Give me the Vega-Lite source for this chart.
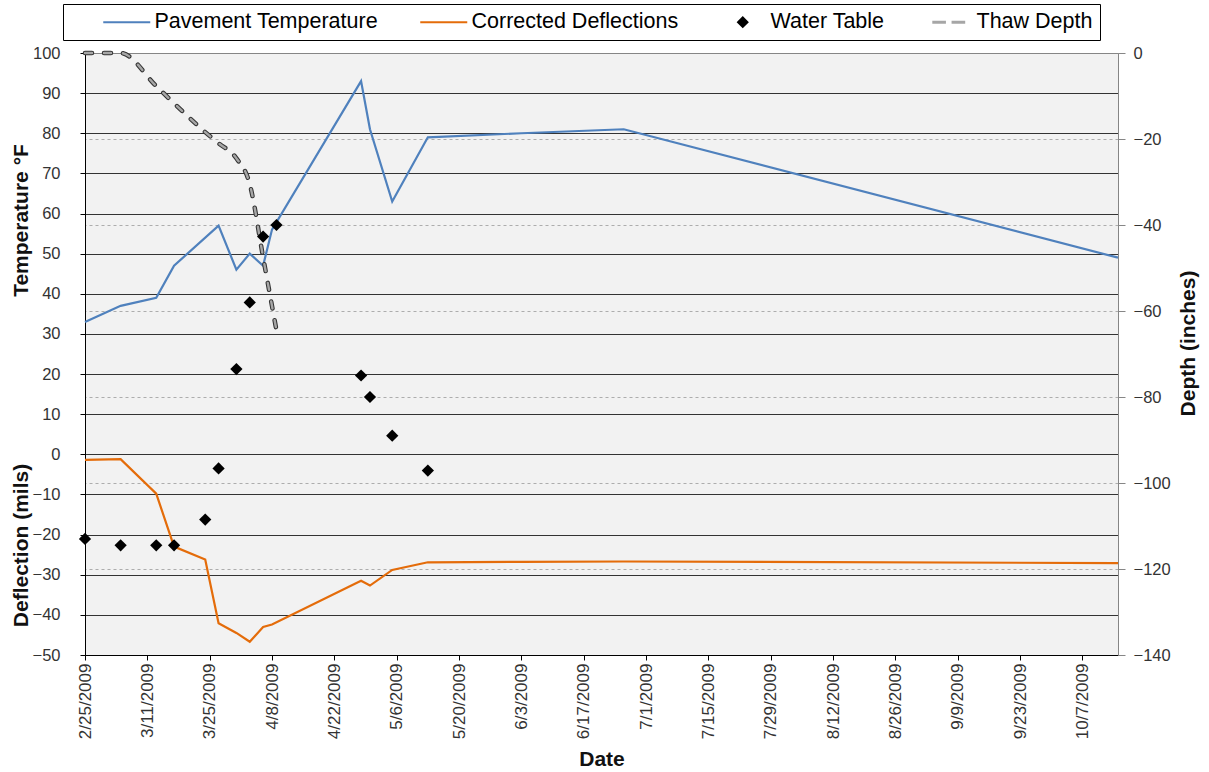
{
  "$schema": "https://vega.github.io/schema/vega-lite/v6.json",
  "width": 1033,
  "height": 602,
  "autosize": {"type": "none"},
  "padding": {"left": 85, "top": 53, "right": 91, "bottom": 117},
  "background": "white",
  "config": {
    "font": "Liberation Sans",
    "view": {"fill": "#F2F2F2", "stroke": "#868686", "strokeWidth": 1},
    "axis": {"labelFont": "Liberation Sans", "titleFont": "Liberation Sans"}
  },
  "datasets": {
    "temp": [
      {"date": "2009-02-25", "value": 33, "series": "Pavement Temperature"},
      {"date": "2009-03-05", "value": 37, "series": "Pavement Temperature"},
      {"date": "2009-03-13", "value": 39, "series": "Pavement Temperature"},
      {"date": "2009-03-17", "value": 47, "series": "Pavement Temperature"},
      {"date": "2009-03-27", "value": 57, "series": "Pavement Temperature"},
      {"date": "2009-03-31", "value": 46, "series": "Pavement Temperature"},
      {"date": "2009-04-03", "value": 50, "series": "Pavement Temperature"},
      {"date": "2009-04-06", "value": 47, "series": "Pavement Temperature"},
      {"date": "2009-04-08", "value": 56, "series": "Pavement Temperature"},
      {"date": "2009-04-28", "value": 93, "series": "Pavement Temperature"},
      {"date": "2009-04-30", "value": 81, "series": "Pavement Temperature"},
      {"date": "2009-05-05", "value": 63, "series": "Pavement Temperature"},
      {"date": "2009-05-13", "value": 79, "series": "Pavement Temperature"},
      {"date": "2009-06-03", "value": 80, "series": "Pavement Temperature"},
      {"date": "2009-06-26", "value": 81, "series": "Pavement Temperature"},
      {"date": "2009-10-15", "value": 49, "series": "Pavement Temperature"}
    ],
    "defl": [
      {"date": "2009-02-25", "value": -1.4, "series": "Corrected Deflections"},
      {"date": "2009-03-05", "value": -1.2, "series": "Corrected Deflections"},
      {"date": "2009-03-13", "value": -9.8, "series": "Corrected Deflections"},
      {"date": "2009-03-17", "value": -23, "series": "Corrected Deflections"},
      {"date": "2009-03-24", "value": -26.2, "series": "Corrected Deflections"},
      {"date": "2009-03-27", "value": -42.1, "series": "Corrected Deflections"},
      {"date": "2009-03-31", "value": -44.5, "series": "Corrected Deflections"},
      {"date": "2009-04-03", "value": -46.7, "series": "Corrected Deflections"},
      {"date": "2009-04-06", "value": -43, "series": "Corrected Deflections"},
      {"date": "2009-04-08", "value": -42.4, "series": "Corrected Deflections"},
      {"date": "2009-04-28", "value": -31.5, "series": "Corrected Deflections"},
      {"date": "2009-04-30", "value": -32.7, "series": "Corrected Deflections"},
      {"date": "2009-05-05", "value": -28.8, "series": "Corrected Deflections"},
      {"date": "2009-05-13", "value": -26.9, "series": "Corrected Deflections"},
      {"date": "2009-06-03", "value": -26.8, "series": "Corrected Deflections"},
      {"date": "2009-06-26", "value": -26.7, "series": "Corrected Deflections"},
      {"date": "2009-10-15", "value": -27.1, "series": "Corrected Deflections"}
    ],
    "water": [
      {"date": "2009-02-25", "value": -113, "series": "Water Table"},
      {"date": "2009-03-05", "value": -114.5, "series": "Water Table"},
      {"date": "2009-03-13", "value": -114.5, "series": "Water Table"},
      {"date": "2009-03-17", "value": -114.5, "series": "Water Table"},
      {"date": "2009-03-24", "value": -108.5, "series": "Water Table"},
      {"date": "2009-03-27", "value": -96.6, "series": "Water Table"},
      {"date": "2009-03-31", "value": -73.5, "series": "Water Table"},
      {"date": "2009-04-03", "value": -58, "series": "Water Table"},
      {"date": "2009-04-06", "value": -42.7, "series": "Water Table"},
      {"date": "2009-04-09", "value": -40, "series": "Water Table"},
      {"date": "2009-04-28", "value": -75, "series": "Water Table"},
      {"date": "2009-04-30", "value": -80, "series": "Water Table"},
      {"date": "2009-05-05", "value": -89, "series": "Water Table"},
      {"date": "2009-05-13", "value": -97.1, "series": "Water Table"}
    ],
    "thaw": [
      {"date": "2009-02-25", "value": 0, "series": "Thaw Depth"},
      {"date": "2009-03-05", "value": 0, "series": "Thaw Depth"},
      {"date": "2009-03-13", "value": -7.7, "series": "Thaw Depth"},
      {"date": "2009-03-17", "value": -11.7, "series": "Thaw Depth"},
      {"date": "2009-03-24", "value": -18.4, "series": "Thaw Depth"},
      {"date": "2009-03-27", "value": -21, "series": "Thaw Depth"},
      {"date": "2009-03-31", "value": -24.5, "series": "Thaw Depth"},
      {"date": "2009-04-03", "value": -30.5, "series": "Thaw Depth"},
      {"date": "2009-04-06", "value": -47.5, "series": "Thaw Depth"},
      {"date": "2009-04-09", "value": -64.5, "series": "Thaw Depth"}
    ]
  },
  "encoding": {
    "x": {
      "field": "date",
      "type": "temporal",
      "scale": {
        "type": "utc",
        "domain": [
          {"year": 2009, "month": 2, "date": 25, "utc": true},
          {"year": 2009, "month": 10, "date": 15, "utc": true}
        ]
      },
      "axis": {
        "values": [
          {"year": 2009, "month": 2, "date": 25, "utc": true},
          {"year": 2009, "month": 3, "date": 11, "utc": true},
          {"year": 2009, "month": 3, "date": 25, "utc": true},
          {"year": 2009, "month": 4, "date": 8, "utc": true},
          {"year": 2009, "month": 4, "date": 22, "utc": true},
          {"year": 2009, "month": 5, "date": 6, "utc": true},
          {"year": 2009, "month": 5, "date": 20, "utc": true},
          {"year": 2009, "month": 6, "date": 3, "utc": true},
          {"year": 2009, "month": 6, "date": 17, "utc": true},
          {"year": 2009, "month": 7, "date": 1, "utc": true},
          {"year": 2009, "month": 7, "date": 15, "utc": true},
          {"year": 2009, "month": 7, "date": 29, "utc": true},
          {"year": 2009, "month": 8, "date": 12, "utc": true},
          {"year": 2009, "month": 8, "date": 26, "utc": true},
          {"year": 2009, "month": 9, "date": 9, "utc": true},
          {"year": 2009, "month": 9, "date": 23, "utc": true},
          {"year": 2009, "month": 10, "date": 7, "utc": true}
        ],
        "format": "%-m/%-d/%Y",
        "labelAngle": -90,
        "labelFontSize": 17,
        "labelColor": "#333333",
        "labelPadding": 3,
        "labelFlush": false,
        "labelOverlap": false,
        "tickSize": 5,
        "tickColor": "#000000",
        "domainColor": "#000000",
        "grid": false,
        "title": "Date",
        "titleFontSize": 21,
        "titleFontWeight": "bold",
        "titleColor": "#111111",
        "titlePadding": 10
      }
    },
    "color": {
      "field": "series",
      "type": "nominal",
      "scale": {
        "domain": ["Pavement Temperature", "Corrected Deflections", "Water Table", "Thaw Depth"],
        "range": ["#4F81BD", "#E46C0A", "#000000", "#A6A6A6"]
      },
      "legend": {
        "orient": "none",
        "legendX": -22,
        "legendY": -49,
        "direction": "horizontal",
        "columns": 4,
        "title": " ",
        "titleOrient": "left",
        "titlePadding": 31,
        "titleFontSize": 21,
        "labelFont": "Liberation Sans",
        "labelFontSize": 21.5,
        "labelColor": "#000000",
        "labelOffset": 17,
        "labelLimit": 400,
        "symbolType": "stroke",
        "symbolSize": 2209,
        "symbolOffset": 15,
        "symbolStrokeWidth": 2,
        "columnPadding": 38,
        "padding": 7,
        "strokeColor": "#000000",
        "fillColor": "#FFFFFF",
        "encode": {
          "symbols": {
            "update": {
              "shape": {"signal": "datum.value === 'Water Table' ? 'M-0.2,0L0,-0.2L0.2,0L0,0.2Z' : (datum.value === 'Thaw Depth' ? 'M-0.7,0L-0.12,0M0.12,0L0.7,0' : 'stroke')"},
              "fill": {"signal": "datum.value === 'Water Table' ? '#000000' : 'transparent'"},
              "stroke": {"signal": "datum.value === 'Water Table' ? 'transparent' : (datum.value === 'Pavement Temperature' ? '#4F81BD' : (datum.value === 'Corrected Deflections' ? '#E46C0A' : '#707070'))"},
              "strokeWidth": {"signal": "datum.value === 'Thaw Depth' ? 3 : 2"},
              "opacity": {"value": 1}
            }
          }
        }
      }
    }
  },
  "layer": [
    {
      "data": {"name": "temp"},
      "mark": {"type": "line", "strokeWidth": 2.2},
      "encoding": {
        "y": {
          "field": "value",
          "type": "quantitative",
          "scale": {"domain": [-50, 100], "nice": false, "zero": false},
          "axis": {
            "orient": "left",
            "values": [-50, -40, -30, -20, -10, 0, 10, 20, 30, 40, 50, 60, 70, 80, 90, 100],
            "grid": true,
            "gridColor": {"condition": {"test": "datum.value === 100 || datum.value === -50", "value": "transparent"}, "value": "#333333"},
            "gridWidth": 1,
            "domainColor": "#000000",
            "tickColor": "#000000",
            "tickSize": 5,
            "labelPadding": 20,
            "labelFontSize": 16.5,
            "labelColor": "#333333",
            "title": "Temperature °F",
            "titleFontSize": 21,
            "titleFontWeight": "bold",
            "titleColor": "#111111",
            "titleX": -64,
            "titleY": 167,
            "titleAngle": -90,
            "titleBaseline": "middle",
            "titleAlign": "center"
          }
        }
      }
    },
    {
      "data": {"name": "defl"},
      "mark": {"type": "line", "strokeWidth": 2.2},
      "encoding": {
        "y": {
          "field": "value",
          "type": "quantitative",
          "scale": {"domain": [-50, 100], "nice": false, "zero": false},
          "axis": {
            "orient": "left",
            "labels": false,
            "ticks": false,
            "domain": false,
            "grid": false,
            "title": "Deflection (mils)",
            "titleFontSize": 21,
            "titleFontWeight": "bold",
            "titleColor": "#111111",
            "titleX": -64,
            "titleY": 492,
            "titleAngle": -90,
            "titleBaseline": "middle",
            "titleAlign": "center"
          }
        }
      }
    },
    {
      "data": {"name": "thaw"},
      "mark": {"type": "line", "strokeWidth": 4.5, "strokeDash": [7, 12], "strokeCap": "round", "interpolate": "monotone"},
      "encoding": {
        "y": {
          "field": "value",
          "type": "quantitative",
          "scale": {"domain": [-140, 0], "nice": false, "zero": false},
          "axis": null
        },
        "color": {"value": "#333333"}
      }
    },
    {
      "data": {"name": "thaw"},
      "mark": {"type": "line", "strokeWidth": 2.4, "strokeDash": [7, 12], "strokeCap": "round", "interpolate": "monotone"},
      "encoding": {
        "y": {
          "field": "value",
          "type": "quantitative",
          "scale": {"domain": [-140, 0], "nice": false, "zero": false},
          "axis": null
        }
      }
    },
    {
      "data": {"name": "water"},
      "mark": {"type": "point", "shape": "diamond", "filled": true, "size": 150, "opacity": 1},
      "encoding": {
        "y": {
          "field": "value",
          "type": "quantitative",
          "scale": {"domain": [-140, 0], "nice": false, "zero": false},
          "axis": {
            "orient": "right",
            "values": [0, -20, -40, -60, -80, -100, -120, -140],
            "grid": true,
            "gridDash": [3, 3],
            "gridColor": {"condition": {"test": "datum.value === 0 || datum.value === -140", "value": "transparent"}, "value": "#9A9A9A"},
            "gridWidth": 0.8,
            "domainColor": "#868686",
            "tickColor": "#868686",
            "tickSize": 7,
            "labelPadding": 8,
            "labelFontSize": 16.5,
            "labelColor": "#333333",
            "title": "Depth (inches)",
            "titleFontSize": 21,
            "titleFontWeight": "bold",
            "titleColor": "#111111",
            "titleX": 70,
            "titleY": 290,
            "titleAngle": -90,
            "titleBaseline": "middle",
            "titleAlign": "center"
          }
        }
      }
    }
  ],
  "resolve": {"scale": {"y": "independent"}}
}
